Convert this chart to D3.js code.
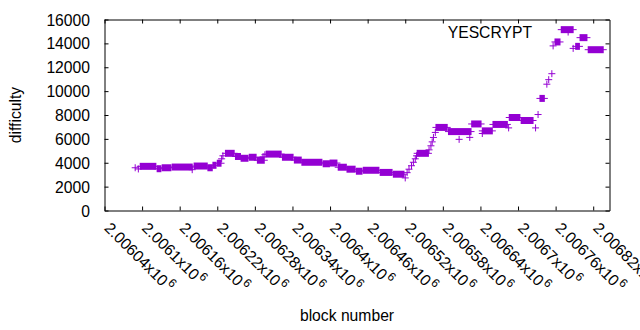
<!DOCTYPE html>
<html>
<head>
<meta charset="utf-8">
<script src="https://cdn.jsdelivr.net/npm/d3@7"></script>
<style>
  body { margin: 0; background: #fff; }
  svg { display: block; }
  text { font-family: "Liberation Sans", Arial, sans-serif; fill: #000; }
</style>
</head>
<body>
<svg id="chart" width="640" height="330"></svg>
<script>
// YESCRYPT difficulty by block number.
// Where many blocks in a row sit at the same difficulty the + marks pile up into
// a solid band, so those stretches are kept as runs (first block, last block, difficulty)
var runStart = [2006097, 2006124, 2006132, 2006148, 2006183, 2006205, 2006213, 2006220,
    2006233, 2006249, 2006258, 2006271, 2006284, 2006298, 2006324, 2006343, 2006355,
    2006389, 2006400, 2006413, 2006427, 2006442, 2006453, 2006480, 2006501, 2006539,
    2006569, 2006589, 2006626, 2006643, 2006660, 2006686, 2006705, 2006735, 2006759,
    2006769, 2006792, 2006799, 2006812];
var runEnd = [2006122, 2006130, 2006146, 2006180, 2006204, 2006212, 2006218, 2006226,
    2006247, 2006257, 2006269, 2006282, 2006295, 2006322, 2006341, 2006354, 2006387,
    2006399, 2006411, 2006426, 2006440, 2006451, 2006478, 2006499, 2006518, 2006557,
    2006587, 2006625, 2006641, 2006659, 2006683, 2006703, 2006724, 2006742, 2006767,
    2006788, 2006798, 2006810, 2006836];
var runDiff = [3700, 3500, 3580, 3640, 3725, 3580, 3790, 3960,
    4790, 4525, 4375, 4460, 4210, 4725, 4460, 4225, 4040,
    3915, 3975, 3625, 3460, 3290, 3370, 3190, 3040, 4790,
    6960, 6610, 7250, 6670, 7210, 7790, 7540, 9390, 14120,
    15150, 13750, 14480, 13470];

// single + marks standing on their own
var pointBlock = [2006089, 2006094, 2006180, 2006227, 2006229, 2006293, 2006296,
    2006520, 2006523, 2006526, 2006530, 2006533, 2006536, 2006538,
    2006558, 2006561, 2006563, 2006565, 2006568, 2006606, 2006623,
    2006643, 2006685, 2006728, 2006732, 2006746, 2006749, 2006754,
    2006756, 2006780, 2006788];
var pointDiff = [3580, 3480, 3420, 4330, 4580, 4500, 4670,
    2730, 3170, 3460, 3750, 4040, 4330, 4580,
    5080, 5420, 5750, 6120, 6540, 5960, 6125,
    6450, 6920, 6920, 8040, 10580, 10960, 11460,
    13790, 14950, 13580];

var xTicks = [2006040, 2006100, 2006160, 2006220, 2006280, 2006340, 2006400,
    2006460, 2006520, 2006580, 2006640, 2006700, 2006760, 2006820];
var xTickLabels = ["2.00604", "2.0061", "2.00616", "2.00622", "2.00628", "2.00634", "2.0064",
    "2.00646", "2.00652", "2.00658", "2.00664", "2.0067", "2.00676", "2.00682"];
var yTicks = [0, 2000, 4000, 6000, 8000, 10000, 12000, 14000, 16000];

var color = "#9400d3";
var fontSize = 15.7;

var svg = d3.select("#chart");

var x = d3.scaleLinear().domain([2006040, 2006846]).range([104.5, 609.5]);
var y = d3.scaleLinear().domain([0, 16000]).range([210.5, 19.5]);

// axes, ticks pointing into the plot, mirrored on top and right
var bottom = svg.append("g")
    .attr("transform", "translate(0,210.5)")
    .call(d3.axisBottom(x).tickValues(xTicks).tickSizeInner(-4).tickSizeOuter(0));
var left = svg.append("g")
    .attr("transform", "translate(104.5,0)")
    .call(d3.axisLeft(y).tickValues(yTicks).tickSizeInner(-4).tickSizeOuter(0).tickFormat(d3.format("d")));
svg.append("g")
    .attr("transform", "translate(0,19.5)")
    .call(d3.axisTop(x).tickValues(xTicks).tickSizeInner(-4).tickSizeOuter(0).tickFormat(""));
svg.append("g")
    .attr("transform", "translate(609.5,0)")
    .call(d3.axisRight(y).tickValues(yTicks).tickSizeInner(-4).tickSizeOuter(0).tickFormat(""));

svg.selectAll(".domain, .tick line").attr("stroke", "#000").attr("stroke-width", 1);
svg.selectAll("g").attr("font-family", null).attr("font-size", null);

left.selectAll(".tick text")
    .attr("x", -14.5)
    .attr("dy", "0.35em")
    .attr("font-size", fontSize);

// rotated labels like 2.00604x10^6
bottom.selectAll(".tick text")
    .attr("y", null)
    .attr("dy", null)
    .attr("text-anchor", "start")
    .attr("font-size", fontSize)
    .attr("transform", "translate(-1.5,18.5) rotate(45)")
    .text(function (d, i) { return xTickLabels[i] + "x10"; })
    .append("tspan")
    .attr("dx", 1.5)
    .attr("dy", -6.5)
    .attr("font-size", 12)
    .text("6");

// data
var plot = svg.append("g");

var runs = d3.range(runStart.length);
plot.selectAll("rect.run")
    .data(runs)
    .enter()
    .append("rect")
    .attr("class", "run")
    .attr("x", function (i) { return x(runStart[i]) - 0.5; })
    .attr("width", function (i) { return x(runEnd[i]) - x(runStart[i]) + 1; })
    .attr("y", function (i) { return y(runDiff[i]) - 3.5; })
    .attr("height", 7)
    .attr("fill", color);
plot.selectAll("path.run")
    .data(runs)
    .enter()
    .append("path")
    .attr("class", "run")
    .attr("d", function (i) {
        return "M" + (x(runStart[i]) - 3.5) + "," + y(runDiff[i]) + "H" + (x(runEnd[i]) + 3.5);
    })
    .attr("stroke", color)
    .attr("stroke-width", 1);

plot.selectAll("path.pt")
    .data(d3.range(pointBlock.length))
    .enter()
    .append("path")
    .attr("class", "pt")
    .attr("d", function (i) {
        var px = x(pointBlock[i]), py = y(pointDiff[i]);
        return "M" + (px - 3.5) + "," + py + "H" + (px + 3.5) +
            "M" + px + "," + (py - 3.5) + "V" + (py + 3.5);
    })
    .attr("stroke", color)
    .attr("stroke-width", 1)
    .attr("fill", "none");

// titles
svg.append("text")
    .attr("transform", "translate(21,115) rotate(-90)")
    .attr("text-anchor", "middle")
    .attr("font-size", fontSize)
    .text("difficulty");

svg.append("text")
    .attr("x", 347)
    .attr("y", 321)
    .attr("text-anchor", "middle")
    .attr("font-size", fontSize)
    .text("block number");

svg.append("text")
    .attr("x", 532)
    .attr("y", 37.5)
    .attr("text-anchor", "end")
    .attr("font-size", fontSize)
    .text("YESCRYPT");
</script>
</body>
</html>
